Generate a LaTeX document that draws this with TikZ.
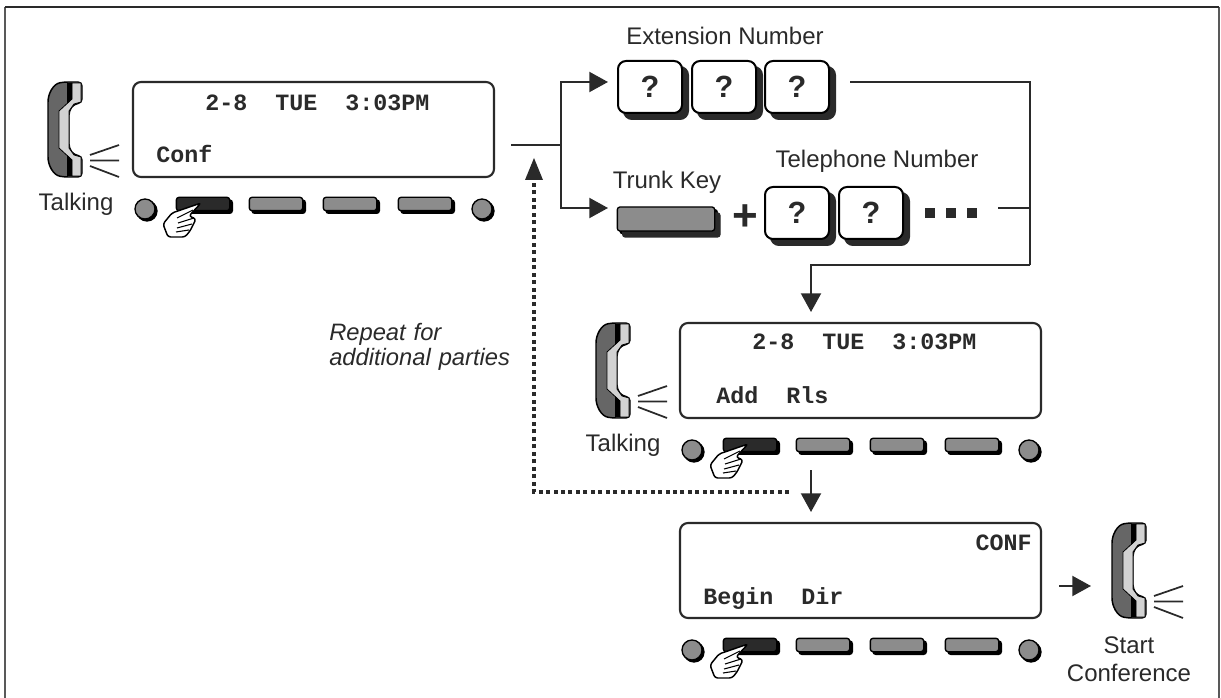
\documentclass[tikz,border=0pt]{standalone}
\usepackage{fontspec}
\setmainfont{Liberation Sans}
\newfontfamily\lcdfont{Liberation Mono}
\usetikzlibrary{shadows,arrows.meta}
\definecolor{inkc}{HTML}{2A2A2A}
\definecolor{keygrey}{HTML}{8C8C8C}
\tikzset{
 x=0.75pt,y=-0.75pt,
 line/.style={draw=inkc,line width=1.5pt},
 arr/.style={line,-{Triangle[length=14pt,width=15pt]}},
 dotline/.style={draw=inkc,line width=3.5pt,dash pattern=on 3pt off 2.6pt},
 lcd/.style={draw=inkc,line width=1.6pt,rounded corners=6pt,minimum width=270.75pt,minimum height=71.25pt,inner sep=0pt,fill=white},
 lcdtext/.style={font=\lcdfont\bfseries\fontsize{17.5}{18}\selectfont,text=inkc,inner sep=0pt,anchor=base west},
 label/.style={font=\fontsize{18}{20}\selectfont,text=inkc,inner sep=0pt},
 softkey/.style={draw=black,line width=1pt,fill=keygrey,rounded corners=2pt,minimum width=40pt,minimum height=10pt,inner sep=0pt,copy shadow={shadow xshift=2pt,shadow yshift=-2pt,fill=black,draw=black}},
 blackkey/.style={softkey,fill=inkc},
 lamp/.style={circle,draw=black,line width=1pt,fill=keygrey,minimum size=15pt,inner sep=0pt,copy shadow={shadow xshift=1.5pt,shadow yshift=-1.5pt,fill=black,draw=black}},
 digit/.style={draw=black,line width=1.5pt,fill=white,rounded corners=6pt,minimum width=48pt,minimum height=39pt,inner sep=0pt,font=\bfseries\fontsize{23}{24}\selectfont,text=inkc,copy shadow={shadow xshift=4.5pt,shadow yshift=-4.5pt,fill=inkc,draw=inkc}},
 pics/keyrow/.style={code={
  \node[lamp] (-l) at (0,0) {};
  \node[blackkey] (-k1) at (58,-5) {};
  \node[softkey] (-k2) at (131,-5) {};
  \node[softkey] (-k3) at (205,-5) {};
  \node[softkey] (-k4) at (280,-5) {};
  \node[lamp] (-r) at (337,0) {};
  \draw[draw=black,fill=white,line width=1.1pt,line join=round,rounded corners=2pt]
    (23,28) -- (18,15) -- (27,4) -- (56,-6) -- (44,7) -- (51,10) -- (48,16) -- (45,22) -- (40,28) -- cycle;
  \draw[draw=black,line width=.8pt] (32,9) -- (48,1) (33,14) -- (49,9) (32,19) -- (47,15) (31,23) -- (44,21);
 }},
 pics/handset/.style={code={
  \path[draw=black,line width=1.1pt,fill=gray!80!black,rounded corners=3pt]
    (34,0) -- (16,0) .. controls (5,2) and (0,12) .. (0,24) -- (0,71) .. controls (0,83) and (5,93) .. (16,95) -- (34,95) -- (34,74) -- (26,73) -- (21,66) -- (21,29) -- (26,22) -- (34,21) -- cycle;
  \draw[black,line width=.6pt,fill=gray!35,line join=round]
    (24,1) -- (33,1) -- (33,20) -- (26,22) -- (21,29) -- (21,66) -- (26,73) -- (33,75) -- (33,94) -- (24,94) -- (24,78) -- (11,66) -- (11,29) -- (24,17) -- cycle;
  \fill[black] (19,1) -- (24,1) -- (24,17) -- (19,22) -- cycle;
  \fill[black] (19,94) -- (24,94) -- (24,78) -- (19,73) -- cycle;
  \draw[inkc,line width=1.3pt] (42,73) -- (71,63) (42,78.5) -- (71,78.5) (42,84) -- (71,95);
 }}
}
\begin{document}
\begin{tikzpicture}
\useasboundingbox (0,0) rectangle (1221,698);
\coordinate (fa) at (5,698); \coordinate (fb) at (5,7); \coordinate (fc) at (1219,7); \coordinate (fd) at (1219,698);
\draw[draw=gray!70!black,line width=1.4pt] (fa) -- (fb);
\draw[draw=gray!70!black,line width=1.4pt] (fc) -- (fd);
\draw[draw=inkc,line width=1.4pt] (fb) -- (fc);

% displays
\node[lcd] (d1) at (313.5,129.5) {};
\node[lcd] (d2) at (860.5,370.5) {};
\node[lcd] (d3) at (860.5,570.5) {};
\node[lcdtext] (t11) at (205,111) {2-8\ \ TUE\ \ 3:03PM};
\node[lcdtext] (t12) at (156,163) {Conf};
\node[lcdtext] (t21) at (752,350) {2-8\ \ TUE\ \ 3:03PM};
\node[lcdtext] (t22) at (716,404) {Add\ \ Rls};
\node[lcdtext,anchor=base east] (t31) at (1032,550) {CONF};
\node[lcdtext] (t32) at (703,604) {Begin\ \ Dir};

% handsets and key rows
\pic at (48,82) {handset};
\pic at (596,323) {handset};
\pic at (1112,523) {handset};
\pic (r1) at (145,209) {keyrow};
\pic (r2) at (692,450) {keyrow};
\pic (r3) at (692,650) {keyrow};

% labels
\node[label] (talk1) at (76,204) {Talking};
\node[label] (talk2) at (623,445) {Talking};
\node[label] (ext) at (725,36) {Extension Number};
\node[label] (trunk) at (667,182) {Trunk Key};
\node[label] (tel) at (877,161) {Telephone Number};
\node[label,font=\itshape\fontsize{17.8}{18}\selectfont,align=left,anchor=north west,text width=140pt] (rep) at (329,323) {Repeat for\\[0.5pt]additional parties};
\node[label,align=center,font=\fontsize{18}{21}\selectfont] (start) at (1129,659) {Start\\[0pt]Conference};

% keys
\node[digit] (e1) at (650,87) {?};
\node[digit] (e2) at (724,87) {?};
\node[digit] (e3) at (797,87) {?};
\node[softkey,minimum width=73pt,minimum height=18pt,copy shadow={shadow xshift=4pt,shadow yshift=-4.5pt,fill=inkc,draw=inkc}] (tk) at (666,219) {};
\node[font=\bfseries\fontsize{33}{33}\selectfont,text=inkc,inner sep=0pt] (plus) at (745,218) {+};
\node[digit] (p1) at (797,213) {?};
\node[digit] (p2) at (871,213) {?};
\foreach \i/\xx in {1/930,2/951,3/972} \node[fill=inkc,minimum size=8pt,inner sep=0pt] (s\i) at (\xx,213) {};

% connectors
\coordinate (a0) at (511,145);
\coordinate (aj) at (561,145);
\coordinate (a1) at (608,82);
\coordinate (a2) at (608,208);
\coordinate (b1) at (850,82);
\coordinate (b2) at (998,208);
\coordinate (cc) at (1030,82);
\coordinate (cm) at (1030,208);
\coordinate (cd) at (1030,265);
\coordinate (ce) at (811,265);
\coordinate (ct) at (811,312);
\coordinate (dtop) at (811,470);
\coordinate (dbot) at (811,512);
\coordinate (f0) at (1059,586);
\coordinate (f1) at (1091,586);
\coordinate (g0) at (789,492);
\coordinate (g1) at (534,492);
\coordinate (g2) at (534,158);
\draw[line] (a0) -- (aj);
\draw[arr] (aj) |- (a1);
\draw[arr] (aj) |- (a2);
\draw[line] (b1) -- (cc) -- (cd);
\draw[line] (b2) -- (cm);
\draw[arr] (cd) -- (ce) -- (ct);
\draw[arr] (dtop) -- (dbot);
\draw[arr] (f0) -- (f1);
\draw[dotline] (g0) -- (g1) -- (534,176);
\draw[draw=none,fill=inkc] (g2) -- (525,180) -- (543,180) -- cycle;
\end{tikzpicture}
\end{document}
